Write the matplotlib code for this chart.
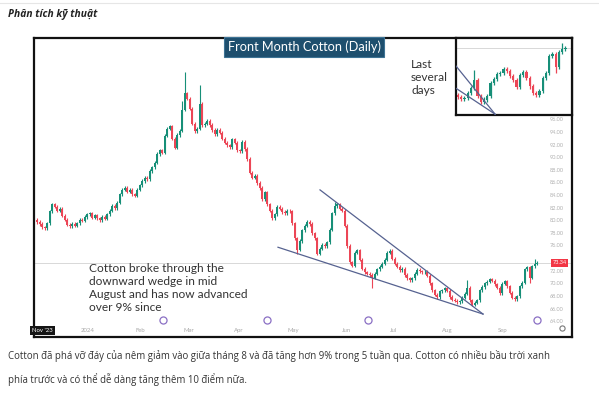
import matplotlib
matplotlib.use("Agg")
import matplotlib.pyplot as plt
import matplotlib.transforms as mtransforms

# ---- daily closes, front month cotton, late Nov '23 -> late Sep '24 ----
closes = [
    79.8, 79.5, 79.0, 78.8, 79.6, 81.5, 82.6, 82.2, 81.6, 81.9,
    80.8, 80.2, 79.4, 79.1, 79.5, 79.2, 79.6, 80.2, 80.0, 80.6,
    81.0, 81.2, 80.5, 80.9, 80.4, 80.1, 80.6, 80.3, 81.0, 81.6,
    82.4, 82.0, 82.9, 84.2, 84.9, 85.2, 84.6, 84.9, 84.2, 84.0,
    84.9, 85.6, 86.3, 86.8, 86.6, 87.9, 88.5, 89.2, 90.6, 91.2,
    90.8, 93.5, 94.6, 95.0, 93.0, 91.6, 93.6, 94.3, 97.6, 100.2,
    99.4, 97.8, 95.4, 94.2, 94.6, 98.6, 95.2, 95.4, 95.9, 95.2,
    94.4, 93.7, 94.4, 94.0, 93.0, 92.4, 92.0, 91.7, 92.9, 92.4,
    91.2, 91.0, 92.5, 91.4, 89.8, 87.6, 86.8, 87.1, 86.0, 85.2,
    83.4, 84.5, 82.6, 81.6, 80.4, 81.0, 82.2, 81.9, 81.4, 81.2,
    81.6, 81.5, 79.6, 77.2, 75.4, 76.8, 78.5, 79.2, 79.8, 79.5,
    78.0, 77.2, 74.8, 75.6, 76.2, 76.0, 76.6, 78.6, 81.2, 82.3,
    82.6, 81.9, 81.6, 79.2, 76.0, 73.4, 72.9, 74.9, 75.3, 73.8,
    72.4, 71.8, 71.6, 71.4, 71.0, 71.6, 72.3, 72.7, 73.2, 73.8,
    74.9, 75.2, 74.0, 73.2, 72.7, 72.2, 72.4, 71.4, 70.9, 70.6,
    70.9, 71.6, 72.2, 72.0, 71.8, 71.9, 71.3, 70.1, 69.0, 68.3,
    67.9, 68.8, 69.0, 69.3, 68.9, 67.9, 67.5, 67.3, 67.1, 67.2,
    67.8, 68.4, 69.4, 67.4, 66.7, 67.0, 67.4, 69.0, 69.5, 70.1,
    70.3, 70.7, 70.5, 69.9, 69.4, 68.5, 70.0, 70.4, 69.6, 68.6,
    67.8, 67.6, 68.0, 69.6, 70.2, 72.3, 72.6, 71.0, 72.8, 73.2,
    73.34,
]
first_open = 80.2
high_spikes = {59: 103.6, 65: 101.5, 58: 99.0, 119: 83.0, 172: 70.6, 181: 71.0, 199: 73.9}
low_spikes = {134: 69.3, 104: 74.8, 197: 70.2}
last_price = 73.34

# wedge: (candle index, price) end points
wedge_upper = [(113.2, 84.9), (178.4, 65.2)]
wedge_lower = [(96.4, 75.8), (178.4, 65.2)]

month_labels = ["2024", "Feb", "Mar", "Apr", "May", "Jun", "Jul", "Aug", "Sep"]
month_pos = [20.4, 41.2, 60.8, 80.8, 102.4, 124.0, 142.8, 164.0, 186.4]
event_pos = [50.4, 92.0, 132.4, 200.0]
price_ticks = [96, 94, 92, 90, 88, 86, 84, 82, 80, 78, 76, 72, 70, 68, 66, 64]

title = "Front Month Cotton (Daily)"
note = "Cotton broke through the\ndownward wedge in mid\nAugust and has now advanced\nover 9% since"
inset_note = "Last\nseveral\ndays"
header = "Phân tích kỹ thuật"
caption = ("Cotton đã phá vỡ đáy của nêm giảm vào giữa tháng 8 và đã tăng hơn 9% trong 5 tuần qua. Cotton có nhiều bầu trời xanh\n"
           "phía trước và có thể dễ dàng tăng thêm 10 điểm nữa.")

UP = "#178f78"
DOWN = "#ec4656"
WEDGE = "#566290"

opens = [first_open] + closes[:-1]
highs = [high_spikes.get(i, max(o, c) + 0.25) for i, (o, c) in enumerate(zip(opens, closes))]
lows = [low_spikes.get(i, min(o, c) - 0.25) for i, (o, c) in enumerate(zip(opens, closes))]
idx = list(range(len(closes)))


def draw_candles(ax, lw, width):
    cols = [UP if c >= o else DOWN for o, c in zip(opens, closes)]
    ax.vlines(idx, lows, highs, colors=cols, linewidth=lw, zorder=2)
    bottoms = [min(o, c) for o, c in zip(opens, closes)]
    heights = [max(abs(c - o), 0.1) for o, c in zip(opens, closes)]
    ax.bar(idx, heights, bottom=bottoms, width=width, color=cols, linewidth=0, zorder=3)


plt.rcParams["font.family"] = ["Lato", "DejaVu Sans"]
fig = plt.figure(figsize=(5.99, 3.95), dpi=100)
fig.patch.set_facecolor("white")

W, H = 599, 395


def fig_rect(x0, y0, x1, y1):
    return [x0 / W, 1 - y1 / H, (x1 - x0) / W, (y1 - y0) / H]


# ---- main chart ----
ax = fig.add_axes(fig_rect(34, 38, 572, 337))
draw_candles(ax, 0.8, 0.8)
ax.set_xlim(-1.2, 214)
ax.set_ylim(61.56, 109.0)
ax.set_xticks([])
ax.set_yticks([])
for s in ax.spines.values():
    s.set_linewidth(1.6)
    s.set_color("#111111")

ax.axhline(last_price, color="#d8d8d8", linewidth=0.7, zorder=1)
for seg in (wedge_upper, wedge_lower):
    ax.plot([p[0] for p in seg], [p[1] for p in seg], color=WEDGE, linewidth=0.9, zorder=4)

tr_xa = mtransforms.blended_transform_factory(ax.transData, ax.transAxes)
tr_ay = mtransforms.blended_transform_factory(ax.transAxes, ax.transData)

for p, lab in zip(month_pos, month_labels):
    ax.text(p, 0.023, lab, transform=tr_xa, fontsize=4.3, color="#a8a8a8",
            ha="center", va="center")
ax.text(0.016, 0.023, "Nov '23", transform=ax.transAxes, fontsize=4.3, color="white",
        ha="center", va="center",
        bbox=dict(boxstyle="square,pad=0.35", fc="#151515", ec="none"))
ax.scatter(event_pos, [0.057] * len(event_pos), transform=tr_xa, s=26,
           facecolor="white", edgecolor="#8a6fc4", linewidth=0.9, zorder=5)
ax.scatter([0.982], [0.03], transform=ax.transAxes, s=14, facecolor="white",
           edgecolor="#777777", linewidth=0.8, zorder=5)

for v in price_ticks:
    ax.text(0.972, v, f"{v:.2f}", transform=tr_ay, fontsize=4.0, color="#b0b0b0",
            ha="center", va="center")
ax.text(0.977, last_price, f"{last_price:.2f}", transform=tr_ay, fontsize=4.0,
        color="white", ha="center", va="center",
        bbox=dict(boxstyle="square,pad=0.3", fc="#f23645", ec="none"))

ax.text(0.103, 73.3, note, transform=tr_ay, fontsize=8.6, color="#333333",
        ha="left", va="top", linespacing=1.22)

# title box
fig.text(304 / W, 1 - 47 / H, title, fontsize=9.2, color="white", ha="center", va="center",
         bbox=dict(boxstyle="square,pad=0.28", fc="#1e4f6e", ec="#3d7394", lw=0.8))

fig.text(411 / W, 1 - 59 / H, inset_note, fontsize=8.6, color="#333333",
         ha="left", va="top", linespacing=1.22)

# ---- inset: last several days ----
axi = fig.add_axes(fig_rect(456, 38, 572, 115))
draw_candles(axi, 0.9, 0.7)
axi.set_xlim(166.4, 202)
axi.set_ylim(65.1, 74.55)
axi.set_xticks([])
axi.set_yticks([])
axi.axhline(last_price, color="#d8d8d8", linewidth=0.7, zorder=1)
for seg in (wedge_upper, wedge_lower):
    axi.plot([p[0] - 40 for p in seg] + [p[0] for p in seg][1:],
             [seg[0][1] + 40 * (seg[0][1] - seg[1][1]) / (seg[1][0] - seg[0][0])] + [p[1] for p in seg],
             color=WEDGE, linewidth=0.9, zorder=4)
for s in axi.spines.values():
    s.set_linewidth(1.6)
    s.set_color("#111111")

# ---- article text ----
fig.text(8 / W, 1 - 15 / H, header, fontsize=7.4, fontweight="bold", fontstyle="italic",
         color="#222222", family=["Open Sans", "DejaVu Sans"], ha="left", va="center")
fig.text(8 / W, 1 - 350 / H, caption, fontsize=6.9, color="#333333",
         family=["Open Sans", "DejaVu Sans"], ha="left", va="top", linespacing=2.05)
fig.add_artist(plt.Line2D([0, 1], [1 - 3 / H, 1 - 3 / H], color="#e6e6e6", linewidth=0.8))

fig.savefig("out.png", dpi=100)
